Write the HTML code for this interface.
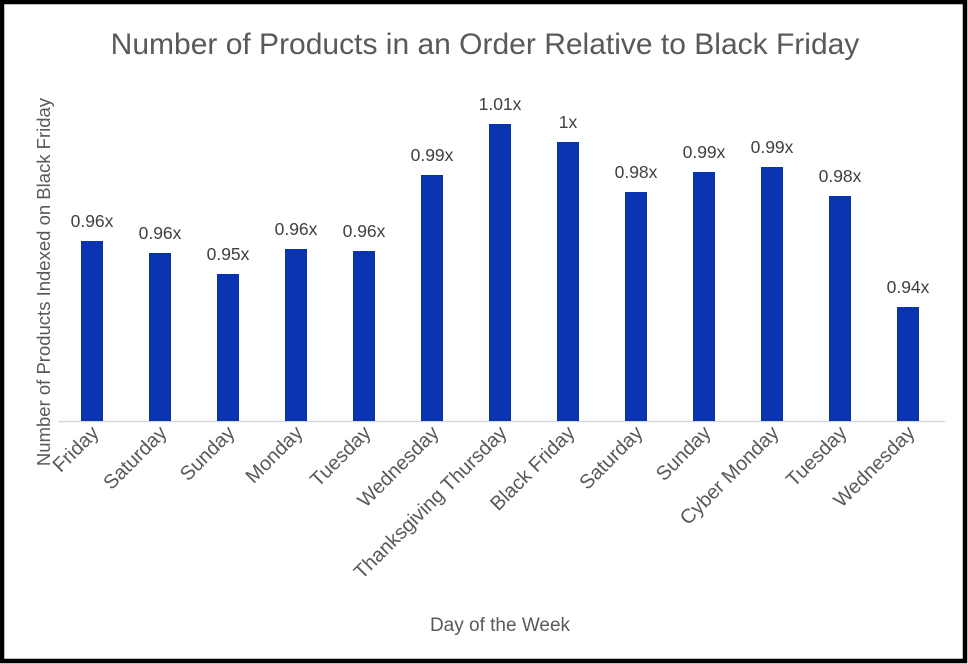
<!DOCTYPE html>
<html><head><style>
html,body{margin:0;padding:0;background:#fff}
svg{display:block}
text{font-family:"Liberation Sans",sans-serif}
</style></head><body>
<svg width="968" height="664" xmlns="http://www.w3.org/2000/svg">
<rect x="2" y="2" width="963" height="659" fill="#fff" stroke="#000" stroke-width="4.5"/>
<text x="485" y="54" text-anchor="middle" font-size="30" fill="#595959">Number of Products in an Order Relative to Black Friday</text>
<line x1="58" y1="421.5" x2="945" y2="421.5" stroke="#d9d9d9" stroke-width="1.5"/>
<g fill="#0a33b0">
<rect x="81" y="241" width="22" height="180"/>
<rect x="149" y="253" width="22" height="168"/>
<rect x="217" y="274" width="22" height="147"/>
<rect x="285" y="249" width="22" height="172"/>
<rect x="353" y="251" width="22" height="170"/>
<rect x="421" y="175" width="22" height="246"/>
<rect x="489" y="124" width="22" height="297"/>
<rect x="557" y="142" width="22" height="279"/>
<rect x="625" y="192" width="22" height="229"/>
<rect x="693" y="172" width="22" height="249"/>
<rect x="761" y="167" width="22" height="254"/>
<rect x="829" y="196" width="22" height="225"/>
<rect x="897" y="307" width="22" height="114"/>
</g>
<g font-size="17.5" fill="#404040" text-anchor="middle">
<text x="92" y="227">0.96x</text>
<text x="160" y="239">0.96x</text>
<text x="228" y="260">0.95x</text>
<text x="296" y="235">0.96x</text>
<text x="364" y="237">0.96x</text>
<text x="432" y="161">0.99x</text>
<text x="500" y="110">1.01x</text>
<text x="568" y="128">1x</text>
<text x="636" y="178">0.98x</text>
<text x="704" y="158">0.99x</text>
<text x="772" y="153">0.99x</text>
<text x="840" y="182">0.98x</text>
<text x="908" y="293">0.94x</text>
</g>
<g font-size="20" fill="#595959" text-anchor="end">
<text transform="translate(100,434) rotate(-45)">Friday</text>
<text transform="translate(168,434) rotate(-45)">Saturday</text>
<text transform="translate(236,434) rotate(-45)">Sunday</text>
<text transform="translate(304,434) rotate(-45)">Monday</text>
<text transform="translate(372,434) rotate(-45)">Tuesday</text>
<text transform="translate(440,434) rotate(-45)">Wednesday</text>
<text transform="translate(508,434) rotate(-45)">Thanksgiving Thursday</text>
<text transform="translate(576,434) rotate(-45)">Black Friday</text>
<text transform="translate(644,434) rotate(-45)">Saturday</text>
<text transform="translate(712,434) rotate(-45)">Sunday</text>
<text transform="translate(780,434) rotate(-45)">Cyber Monday</text>
<text transform="translate(848,434) rotate(-45)">Tuesday</text>
<text transform="translate(916,434) rotate(-45)">Wednesday</text>
</g>
<text x="500" y="631" text-anchor="middle" font-size="19" fill="#595959">Day of the Week</text>
<text transform="translate(50,282) rotate(-90)" text-anchor="middle" font-size="18.5" fill="#595959">Number of Products Indexed on Black Friday</text>
</svg>
</body></html>
